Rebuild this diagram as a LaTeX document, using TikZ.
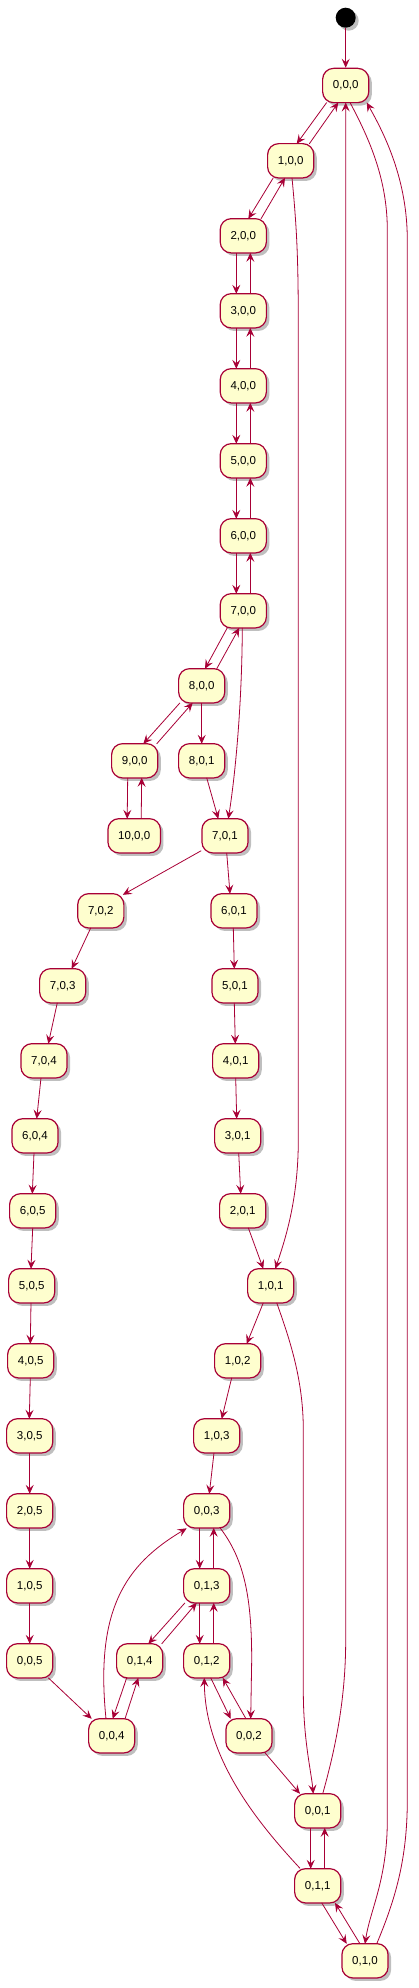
\documentclass[tikz,border=0pt]{standalone}
\usepackage{fontspec}
\setmainfont{Liberation Sans}
\usetikzlibrary{arrows.meta,calc,shadows}
\definecolor{umlred}{HTML}{A80036}
\definecolor{umlfill}{HTML}{FEFECE}
\begin{document}
\begin{tikzpicture}[x=1pt,y=-1pt,
	state/.style={rectangle,rounded corners=11pt,draw=umlred,fill=umlfill,line width=1.2pt,
		minimum height=34.3pt,inner xsep=10.3pt,font=\fontsize{11.5}{13}\selectfont,
		drop shadow={shadow xshift=3pt,shadow yshift=-3pt,fill=black,opacity=0.25}},
	edge/.style={umlred,line width=0.8pt,-{Stealth[length=9pt,width=8pt,inset=3.5pt]}}]
	\useasboundingbox (0,0) rectangle (418,1988);

	\node[circle,fill=black,minimum size=20pt,inner sep=0pt,
		drop shadow={shadow xshift=3pt,shadow yshift=-3pt,fill=black,opacity=0.25}] (Start) at (345.7,17.7) {};
	\node[state] (S000) at (345.7,85.5) {0,0,0};
	\node[state] (S100) at (290.7,160.8) {1,0,0};
	\node[state] (S200) at (243.3,235.8) {2,0,0};
	\node[state] (S300) at (243.3,310.8) {3,0,0};
	\node[state] (S400) at (243.3,385.8) {4,0,0};
	\node[state] (S500) at (243.3,460.8) {5,0,0};
	\node[state] (S600) at (243.3,535.8) {6,0,0};
	\node[state] (S700) at (243.3,610.8) {7,0,0};
	\node[state] (S800) at (201.7,685.8) {8,0,0};
	\node[state] (S900) at (134.7,760.8) {9,0,0};
	\node[state] (S801) at (201.7,760.8) {8,0,1};
	\node[state] (S1000) at (134.2,835.8) {10,0,0};
	\node[state] (S701) at (225,835.8) {7,0,1};
	\node[state] (S702) at (100.8,910.8) {7,0,2};
	\node[state] (S601) at (234,910.8) {6,0,1};
	\node[state] (S703) at (62.7,985.8) {7,0,3};
	\node[state] (S501) at (235,985.8) {5,0,1};
	\node[state] (S704) at (44,1060.8) {7,0,4};
	\node[state] (S401) at (235.7,1060.8) {4,0,1};
	\node[state] (S604) at (35,1135.8) {6,0,4};
	\node[state] (S301) at (237.7,1135.8) {3,0,1};
	\node[state] (S605) at (32.7,1210.8) {6,0,5};
	\node[state] (S201) at (242.7,1210.8) {2,0,1};
	\node[state] (S505) at (31.7,1285.8) {5,0,5};
	\node[state] (S101) at (270.7,1285.8) {1,0,1};
	\node[state] (S405) at (30.7,1360.8) {4,0,5};
	\node[state] (S102) at (237.7,1360.8) {1,0,2};
	\node[state] (S305) at (29.7,1435.8) {3,0,5};
	\node[state] (S103) at (216.7,1435.8) {1,0,3};
	\node[state] (S205) at (29.7,1510.8) {2,0,5};
	\node[state] (S003) at (206.7,1510.8) {0,0,3};
	\node[state] (S105) at (29.7,1585.8) {1,0,5};
	\node[state] (S013) at (206.7,1585.8) {0,1,3};
	\node[state] (S005) at (29.7,1660.8) {0,0,5};
	\node[state] (S014) at (139.7,1660.8) {0,1,4};
	\node[state] (S012) at (206.7,1660.8) {0,1,2};
	\node[state] (S004) at (111.7,1735.8) {0,0,4};
	\node[state] (S002) at (249,1735.8) {0,0,2};
	\node[state] (S001) at (317.7,1810.8) {0,0,1};
	\node[state] (S011) at (317.7,1885.8) {0,1,1};
	\node[state] (S010) at (365,1960.8) {0,1,0};

	\draw[edge] (Start) -- (S000);

	% downward edges
	\foreach \a/\b/\p/\q in {S000/S100/-19/6, S100/S200/-17.4/5, S700/S800/-16/3.3,
		S800/S900/-21.7/8.6, S800/S801/0/0, S801/S701/5/-6.7, S701/S601/1.7/-4,
		S702/S703/-10/9, S601/S501/-0.7/-0.7, S703/S704/-5.4/4.3, S501/S401/-0.7/-0.4,
		S704/S604/-3/1.7, S401/S301/0/-1, S604/S605/-1/-0.4, S301/S201/1/-2,
		S605/S505/0/-0.7, S201/S101/5.6/-7.4, S505/S405/-0.7/-0.4, S101/S102/-7.4/9,
		S405/S305/-0.4/-0.4, S102/S103/-6/5, S305/S205/0/0, S103/S003/-2.7/2.6,
		S205/S105/0/0, S105/S005/0/0, S013/S014/-21.7/8.6, S005/S004/18.6/-20,
		S014/S004/-13/1, S012/S002/4/-18.3, S002/S001/16/-17.7, S011/S010/4/-18.3}
		\draw[edge] ($(\a)+(\p,17)$) -- ($(\b)+(\q,-17)$);

	% upward edges
	\foreach \a/\b/\p/\q in {S100/S000/18.6/-7.4, S200/S100/17.7/-5.7, S800/S700/15/-4,
		S900/S800/22/-9, S014/S013/22/-10, S004/S014/13.3/-1.4, S002/S012/-3/16,
		S010/S011/-5/17.3}
		\draw[edge] ($(\a)+(\p,-17)$) -- ($(\b)+(\q,17)$);

	% two-way vertical pairs
	\foreach \a/\b in {S200/S300, S300/S400, S400/S500, S500/S600, S600/S700,
		S900/S1000, S003/S013, S013/S012, S001/S011} {
		\draw[edge] ($(\a)+(-7,17)$) -- ($(\b)+(-7,-17)$);
		\draw[edge] ($(\b)+(7,-17)$) -- ($(\a)+(7,17)$);
	}

	\draw[edge] ($(S701)+(-23.8,14.9)$) -- ($(S702)+(22,-16)$);

	% long curves
	\draw[edge] ($(S700)+(-1,17)$) .. controls (242,700) and (236,770) .. ($(S701)+(3.3,-17)$);
	\draw[edge] ($(S100)+(1.3,17)$) .. controls (297,230) and (298.3,260) .. (298.3,330)
		-- (298.3,1140) .. controls (298.3,1200) and (285,1240) .. ($(S101)+(4.6,-17)$);
	\draw[edge] ($(S101)+(6,17)$) .. controls (290,1340) and (303.3,1380) .. (303.3,1430)
		-- (303.3,1690) .. controls (303.3,1740) and (311,1770) .. ($(S001)+(-4.4,-17)$);
	\draw[edge] ($(S003)+(13.3,17)$) .. controls (245,1560) and (251.7,1600) .. (251.7,1660)
		-- ($(S002)+(1.7,-17)$);
	\draw[edge] ($(S004)+(-5.7,-17)$) .. controls (95,1610) and (125,1565) .. ($(S003)+(-20,17.5)$);
	\draw[edge] ($(S011)+(-17.7,-17.5)$) .. controls (260,1825) and (205,1760) .. ($(S012)+(-2.4,17)$);
	\draw[edge] ($(S001)+(5,-17)$) .. controls (335,1750) and (345.7,1700) .. (345.7,1640)
		-- ($(S000)+(0,17)$);
	\draw[edge] ($(S000)+(4.3,17)$) .. controls (370,140) and (387.3,180) .. (387.3,230)
		-- (387.3,1820) .. controls (387.3,1880) and (370,1910) .. ($(S010)+(0,-17)$);
	\draw[edge] ($(S010)+(11.7,-17)$) .. controls (395,1900) and (407.3,1860) .. (407.3,1800)
		-- (407.3,240) .. controls (407.3,180) and (385,135) .. ($(S000)+(21,17)$);
\end{tikzpicture}
\end{document}
